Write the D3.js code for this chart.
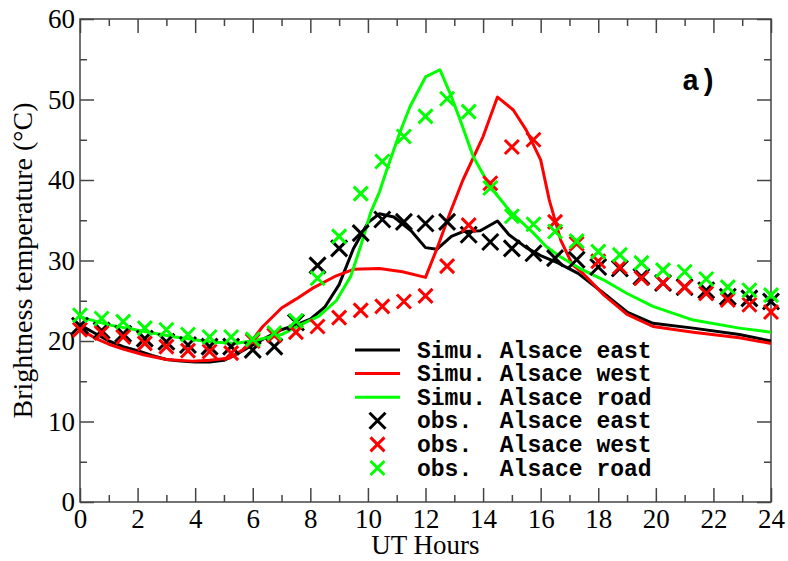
<!DOCTYPE html>
<html>
<head>
<meta charset="utf-8">
<script src="https://cdn.jsdelivr.net/npm/d3@7"></script>
<style>
  body { margin: 0; background: #fff; }
  svg { display: block; }
</style>
</head>
<body>
<svg></svg>
<script>
var svgWidth = 788;
var svgHeight = 561;

// observation times (UT hours)
var obsHours = [0, 0.75, 1.5, 2.25, 3, 3.75, 4.5, 5.25, 6, 6.75, 7.5, 8.25, 9, 9.75,
  10.5, 11.25, 12, 12.75, 13.5, 14.25, 15, 15.75, 16.5, 17.25, 18, 18.75, 19.5,
  20.25, 21, 21.75, 22.5, 23.25, 24];

var obsEast = [21.9, 21.3, 20.9, 20.3, 19.9, 19.5, 19.3, 19.3, 18.9, 19.3, 22.3, 29.4,
  31.5, 33.4, 35.1, 34.8, 34.6, 34.8, 33.2, 32.3, 31.5, 30.9, 30.3, 30.1, 29.2, 29.0,
  28.0, 27.2, 26.7, 26.3, 25.5, 25.3, 24.9];
var obsWest = [21.4, 21.0, 20.5, 19.7, 19.3, 18.8, 18.7, 18.5, 20.0, 20.7, 21.1, 21.8,
  22.9, 23.8, 24.3, 24.9, 25.6, 29.3, 34.4, 39.6, 44.1, 45.0, 34.8, 32.1, 29.9, 29.2,
  27.8, 27.2, 26.7, 25.9, 25.1, 24.5, 23.6];
var obsRoad = [23.2, 22.8, 22.4, 21.6, 21.4, 20.8, 20.5, 20.5, 20.2, 21.0, 22.5, 27.8,
  33.0, 38.3, 42.3, 45.4, 47.9, 50.1, 48.5, 39.0, 35.5, 34.5, 33.6, 32.4, 31.1, 30.7,
  29.7, 28.8, 28.6, 27.7, 26.7, 26.3, 25.7];

// simulations: [hour, temperature]
var simEast = [[0, 22.0], [0.5, 21.0], [1, 20.0], [1.5, 19.3], [2, 18.8], [2.5, 18.2],
  [3, 17.7], [3.5, 17.5], [4, 17.4], [4.5, 17.4], [5, 17.6], [5.5, 18.5], [6, 19.5],
  [6.5, 20.5], [7, 21.4], [7.5, 22.0], [8, 22.7], [8.5, 24.2], [9, 27.0], [9.5, 31.5],
  [10, 34.7], [10.4, 35.8], [10.9, 35.4], [11.5, 33.7], [12, 31.6], [12.4, 31.4],
  [12.9, 33.0], [13.3, 33.6], [13.9, 33.7], [14.5, 34.9], [14.9, 33.2], [15.5, 31.6],
  [16, 30.6], [16.6, 29.7], [17.3, 28.4], [18.2, 25.9], [19, 23.6], [19.9, 22.2],
  [21.3, 21.6], [22.9, 20.8], [24, 20.0]];
var simWest = [[0, 21.5], [0.5, 20.4], [1, 19.6], [1.5, 19.0], [2.2, 18.3], [3, 17.7],
  [3.9, 17.5], [4.5, 17.6], [5.2, 17.9], [5.65, 18.9], [6, 20.2], [6.35, 21.8],
  [7, 24.1], [7.5, 25.2], [8.1, 26.6], [8.9, 28.1], [9.5, 28.9], [10.4, 29.0],
  [11.2, 28.6], [12, 27.9], [12.4, 31.5], [12.85, 35.9], [13.3, 40.0], [14, 45.4],
  [14.5, 50.3], [15.05, 48.7], [15.5, 46.2], [16, 42.5], [16.3, 37.5], [16.7, 32.5],
  [17.1, 29.5], [17.5, 28.3], [18.2, 25.7], [19, 23.3], [19.9, 21.8], [21.3, 21.1],
  [22.9, 20.4], [24, 19.7]];
var simRoad = [[0, 23.0], [1, 22.0], [2.2, 21.2], [3.3, 20.5], [4.5, 19.9], [5.4, 19.7],
  [6.1, 20.1], [7, 20.8], [7.6, 21.9], [8.3, 23.1], [8.9, 25.0], [9.4, 28.0],
  [9.75, 31.8], [10.1, 36.0], [10.4, 38.5], [10.65, 41.2], [11.1, 45.8], [11.46, 49.1],
  [12, 52.8], [12.5, 53.7], [12.85, 50.8], [13.2, 47.5], [13.66, 42.9], [14.24, 39.2],
  [14.94, 36.1], [15.75, 33.4], [16.2, 31.7], [16.67, 30.5], [17.37, 29.0],
  [18.18, 27.6], [19, 25.9], [19.9, 24.3], [21.3, 22.6], [22.9, 21.6], [24, 21.1]];

var xMajor = [0, 2, 4, 6, 8, 10, 12, 14, 16, 18, 20, 22, 24];
var xMinor = [1, 3, 5, 7, 9, 11, 13, 15, 17, 19, 21, 23];
var yMajor = [0, 10, 20, 30, 40, 50, 60];
var yMinor = [5, 15, 25, 35, 45, 55];

var legendLabels = ["Simu. Alsace east", "Simu. Alsace west", "Simu. Alsace road",
  "obs.  Alsace east", "obs.  Alsace west", "obs.  Alsace road"];

var colEast = "#000000", colWest = "#ff0000", colRoad = "#00ff00";

// plot box (note: "top" is taken by window.top, so use other names)
var plotL = 80, plotR = 771, plotT = 19, plotB = 502;

var svg = d3.select("svg")
  .attr("width", svgWidth)
  .attr("height", svgHeight);

var x = d3.scaleLinear().domain([0, 24]).range([plotL, plotR]);
var y = d3.scaleLinear().domain([0, 60]).range([plotB, plotT]);

var axisCol = "#444";
var serif = "'Liberation Serif', 'DejaVu Serif', serif";
var mono = "'Liberation Mono', 'DejaVu Sans Mono', monospace";

function styleAxis(g) {
  g.select(".domain").remove();
  g.selectAll(".tick line").attr("stroke", axisCol).attr("stroke-width", 1.5);
  g.selectAll(".tick text").attr("fill", "#000").attr("font-family", serif).attr("font-size", 27);
}

// bottom
svg.append("g").attr("transform", "translate(0," + plotB + ")")
  .call(d3.axisBottom(x).tickValues(xMajor).tickSize(-14).tickPadding(7).tickFormat(d3.format("d")))
  .call(styleAxis);
svg.append("g").attr("transform", "translate(0," + plotB + ")")
  .call(d3.axisBottom(x).tickValues(xMinor).tickSize(-7).tickFormat(""))
  .call(styleAxis);
// top
svg.append("g").attr("transform", "translate(0," + plotT + ")")
  .call(d3.axisTop(x).tickValues(xMajor).tickSize(-14).tickFormat(""))
  .call(styleAxis);
svg.append("g").attr("transform", "translate(0," + plotT + ")")
  .call(d3.axisTop(x).tickValues(xMinor).tickSize(-7).tickFormat(""))
  .call(styleAxis);
// left
svg.append("g").attr("transform", "translate(" + plotL + ",0)")
  .call(d3.axisLeft(y).tickValues(yMajor).tickSize(-14).tickPadding(5).tickFormat(d3.format("d")))
  .call(styleAxis);
svg.append("g").attr("transform", "translate(" + plotL + ",0)")
  .call(d3.axisLeft(y).tickValues(yMinor).tickSize(-7).tickFormat(""))
  .call(styleAxis);
// right
svg.append("g").attr("transform", "translate(" + plotR + ",0)")
  .call(d3.axisRight(y).tickValues(yMajor).tickSize(-14).tickFormat(""))
  .call(styleAxis);
svg.append("g").attr("transform", "translate(" + plotR + ",0)")
  .call(d3.axisRight(y).tickValues(yMinor).tickSize(-7).tickFormat(""))
  .call(styleAxis);

// frame
svg.append("rect")
  .attr("x", plotL).attr("y", plotT)
  .attr("width", plotR - plotL).attr("height", plotB - plotT)
  .attr("fill", "none").attr("stroke", axisCol).attr("stroke-width", 1.5);

// axis titles
svg.append("text")
  .attr("x", (plotL + plotR) / 2).attr("y", 554)
  .attr("text-anchor", "middle")
  .attr("font-family", serif).attr("font-size", 27)
  .text("UT Hours");
svg.append("text")
  .attr("transform", "translate(32," + (plotT + plotB) / 2 + ") rotate(-90)")
  .attr("text-anchor", "middle")
  .attr("font-family", serif).attr("font-size", 28)
  .text("Brightness temperature (°C)");

// simulated lines
var line = d3.line()
  .x(function(d) { return x(d[0]); })
  .y(function(d) { return y(d[1]); });

[[simEast, colEast], [simWest, colWest], [simRoad, colRoad]].forEach(function(s) {
  svg.append("path")
    .datum(s[0])
    .attr("d", line)
    .attr("fill", "none")
    .attr("stroke", s[1])
    .attr("stroke-width", 3)
    .attr("stroke-linejoin", "round");
});

// observed crosses
function cross(s) {
  return "M" + (-s) + "," + (-s) + "L" + s + "," + s + "M" + (-s) + "," + s + "L" + s + "," + (-s);
}

[[obsEast, colEast, 8], [obsWest, colWest, 7], [obsRoad, colRoad, 7]].forEach(function(s) {
  svg.append("g")
    .selectAll("path")
    .data(s[0])
    .enter()
    .append("path")
    .attr("transform", function(d, i) {
      return "translate(" + x(obsHours[i]) + "," + y(d) + ")";
    })
    .attr("d", cross(s[2]))
    .attr("fill", "none")
    .attr("stroke", s[1])
    .attr("stroke-width", 3);
});

// legend
var legendCols = [colEast, colWest, colRoad, colEast, colWest, colRoad];
var legend = svg.append("g").attr("transform", "translate(355,350)");
legendLabels.forEach(function(label, i) {
  var ly = i * 23.6;
  if (i < 3) {
    legend.append("line")
      .attr("x1", 0).attr("x2", 45)
      .attr("y1", ly).attr("y2", ly)
      .attr("stroke", legendCols[i]).attr("stroke-width", 3);
  } else {
    legend.append("path")
      .attr("transform", "translate(22.5," + ly + ")")
      .attr("d", cross(i == 3 ? 8 : 7))
      .attr("fill", "none")
      .attr("stroke", legendCols[i])
      .attr("stroke-width", 3);
  }
  legend.append("text")
    .attr("x", 62).attr("y", ly + 7.5)
    .attr("font-family", mono)
    .attr("font-weight", "bold")
    .attr("font-size", 23)
    .style("white-space", "pre")
    .text(label);
});

// panel label
svg.append("text")
  .attr("x", 682).attr("y", 90)
  .attr("font-family", mono)
  .attr("font-weight", "bold")
  .attr("font-size", 29)
  .text("a)");
</script>
</body>
</html>
